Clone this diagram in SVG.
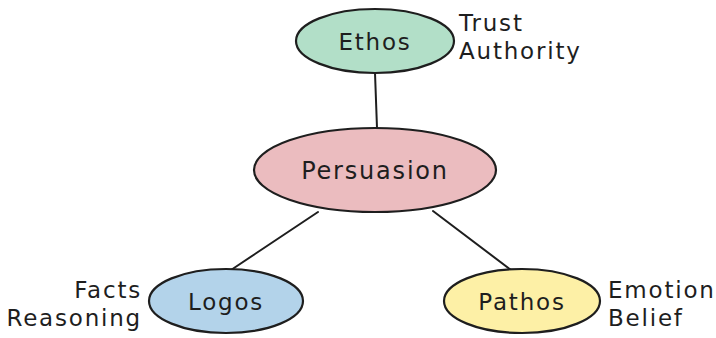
<svg xmlns="http://www.w3.org/2000/svg" width="716" height="338" viewBox="0 0 716 338">
<style>
.node ellipse{stroke:#1e1e1e;stroke-width:2.2}
.lbl{font-family:"DejaVu Sans","Liberation Sans",sans-serif;font-size:23px;fill:#1e1e1e;letter-spacing:1.8px}
.c{text-anchor:middle;dominant-baseline:central}
.conn line{stroke:#1e1e1e;stroke-width:2;stroke-linecap:round}
</style>
<rect width="716" height="338" fill="#ffffff"/>
<g id="connectors" class="conn">
<line x1="375" y1="73" x2="377" y2="128"/>
<line x1="318" y1="212" x2="231" y2="270"/>
<line x1="433" y1="211" x2="511" y2="270"/>
</g>
<g id="ethos" class="node">
<ellipse cx="375" cy="41" rx="79" ry="32" fill="#b2dfc8"/>
<text class="lbl c" x="375" y="42">Ethos</text>
<text class="lbl" x="459" y="31">Trust</text>
<text class="lbl" x="459" y="59">Authority</text>
</g>
<g id="persuasion" class="node">
<ellipse cx="375" cy="170" rx="121" ry="42" fill="#ebbcbf"/>
<text class="lbl c" x="375" y="171" style="font-size:24px">Persuasion</text>
</g>
<g id="logos" class="node">
<ellipse cx="226" cy="301" rx="77" ry="32" fill="#b3d3ea"/>
<text class="lbl c" x="226" y="302">Logos</text>
<text class="lbl" x="142" y="298" text-anchor="end">Facts</text>
<text class="lbl" x="142" y="326" text-anchor="end">Reasoning</text>
</g>
<g id="pathos" class="node">
<ellipse cx="522" cy="301" rx="78" ry="32" fill="#fdf0a6"/>
<text class="lbl c" x="522" y="302">Pathos</text>
<text class="lbl" x="608" y="298">Emotion</text>
<text class="lbl" x="608" y="326">Belief</text>
</g>
</svg>
